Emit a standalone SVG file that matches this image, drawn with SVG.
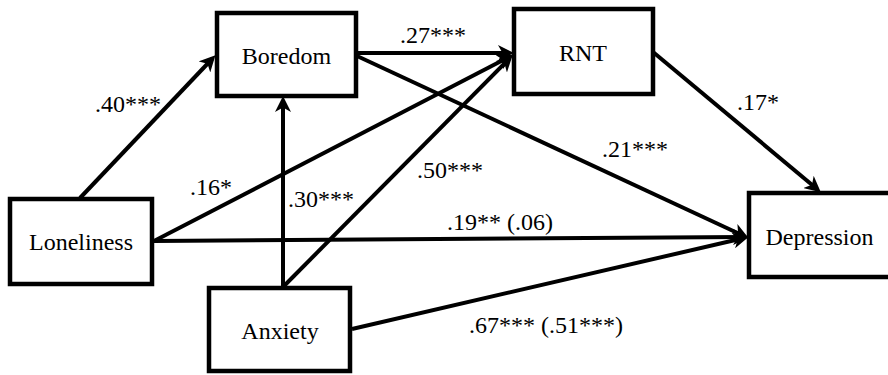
<svg xmlns="http://www.w3.org/2000/svg" width="888" height="375" viewBox="0 0 888 375">
<style>
.box{fill:#fff;stroke:#000;stroke-width:4.5}
text{font-family:'Liberation Serif','Times New Roman',Times,serif;font-size:24px;fill:#000}
.edge{stroke:#000;stroke-width:4;fill:none;marker-end:url(#arr)}
</style>
<defs>
<marker id="arr" viewBox="0 0 16 16" refX="11" refY="8" markerWidth="16" markerHeight="16" markerUnits="userSpaceOnUse" orient="auto">
<path d="M0,0 L16,8 L0,16 L4.5,8 Z" fill="#000"/>
</marker>
</defs>
<rect width="888" height="375" fill="#fff"/>
<g id="connectors">
<line class="edge" x1="80" y1="198" x2="212" y2="59"/>
<line class="edge" x1="283" y1="287" x2="283" y2="101"/>
<line class="edge" x1="358" y1="53" x2="509" y2="53"/>
<line class="edge" x1="154" y1="241" x2="509" y2="57"/>
<line class="edge" x1="283" y1="287" x2="509" y2="59"/>
<line class="edge" x1="357" y1="56" x2="744" y2="236"/>
<line class="edge" x1="154" y1="241" x2="744" y2="237"/>
<line class="edge" x1="352" y1="329" x2="744" y2="238"/>
<line class="edge" x1="653" y1="52" x2="817" y2="189"/>
</g>
<g font-family="Liberation Serif, serif" font-size="24">
<g id="boredom"><rect class="box" x="217" y="13" width="139" height="83"/><text x="286.5" y="64" text-anchor="middle">Boredom</text></g>
<g id="rnt"><rect class="box" x="514" y="9" width="139" height="85"/><text x="583" y="61" text-anchor="middle">RNT</text></g>
<g id="loneliness"><rect class="box" x="10" y="199" width="142" height="85"/><text x="81" y="250" text-anchor="middle">Loneliness</text></g>
<g id="anxiety"><rect class="box" x="209" y="288" width="141" height="83"/><text x="280" y="339" text-anchor="middle">Anxiety</text></g>
<g id="depression"><rect class="box" x="749" y="193" width="142" height="84"/><text x="819.5" y="245" text-anchor="middle">Depression</text></g>
<g id="labels">
<text x="95" y="112">.40***</text>
<text x="400" y="43">.27***</text>
<text x="737" y="110">.17*</text>
<text x="602" y="157">.21***</text>
<text x="190" y="195">.16*</text>
<text x="288" y="207">.30***</text>
<text x="417" y="178">.50***</text>
<text x="447" y="230">.19** (.06)</text>
<text x="469" y="333">.67*** (.51***)</text>
</g>
</g>
</svg>
